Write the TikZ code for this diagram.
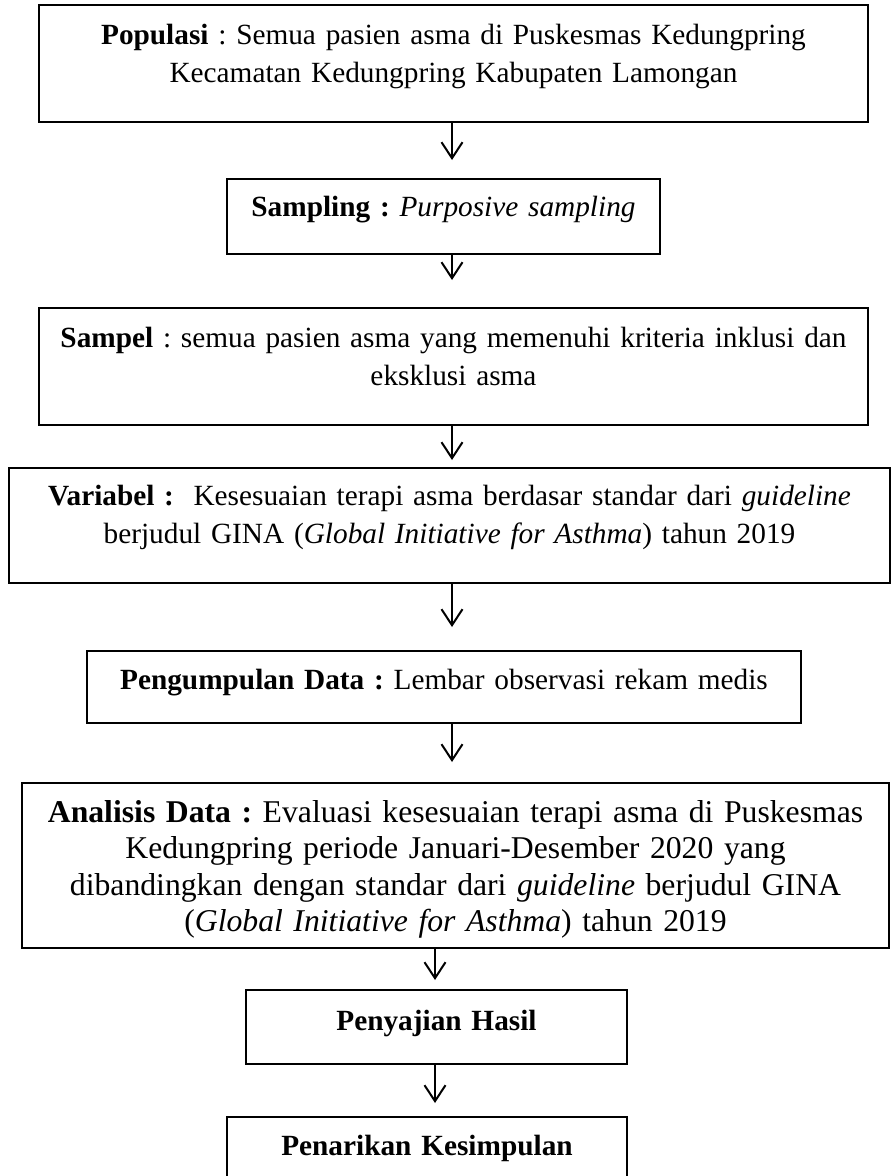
\documentclass[tikz,border=0pt]{standalone}
\usepackage{fontspec}
\setmainfont{Liberation Serif}
\usetikzlibrary{arrows.meta,positioning}
\frenchspacing

\begin{document}
\begin{tikzpicture}[
    x=1pt, y=-1pt,
    box/.style={draw, line width=2.6pt, inner sep=0pt, outer sep=0pt, anchor=north,
      align=center, font=\fontsize{29.3}{38}\selectfont},
    bigbox/.style={box, font=\fontsize{31.7}{36.5}\selectfont},
    arr/.style={-{Straight Barb[length=16pt,width=21pt,line width=2pt]}, line width=2pt},
  ]
    \clip (0,0) rectangle (891,1176);
    \node[box, text width=829pt, text height=39pt, text depth=78pt] (pop) at (453.5,5)
      {\textbf{Populasi} : Semua pasien asma di Puskesmas Kedungpring\\
       Kecamatan Kedungpring Kabupaten Lamongan};
    \node[box, text width=433pt, text height=37pt, text depth=38pt] (samp) at (443.5,179)
      {\textbf{Sampling :} \textit{Purposive sampling}};
    \node[box, text width=829pt, text height=39pt, text depth=78pt] (sampel) at (453.5,308)
      {\textbf{Sampel} : semua pasien asma yang memenuhi kriteria inklusi dan\\
       eksklusi asma};
    \node[box, text width=881pt, text height=37pt, text depth=78pt] (var) at (449.5,468)
      {\textbf{Variabel :}\ \ Kesesuaian terapi asma berdasar standar dari \textit{guideline}\\
       berjudul GINA (\textit{Global Initiative for Asthma}) tahun 2019};
    \node[box, text width=714pt, text height=38pt, text depth=34pt] (kumpul) at (444,651)
      {\textbf{Pengumpulan Data :} Lembar observasi rekam medis};
    \node[bigbox, text width=867pt, text height=39pt, text depth=126pt] (analisis) at (455.5,783)
      {\textbf{Analisis Data :} Evaluasi kesesuaian terapi asma di Puskesmas\\
       Kedungpring periode Januari-Desember 2020 yang\\
       dibandingkan dengan standar dari \textit{guideline} berjudul GINA\\
       (\textit{Global Initiative for Asthma}) tahun 2019};
    \node[box, text width=381pt, text height=40pt, text depth=34pt] (saji) at (436.5,990)
      {\textbf{Penyajian Hasil}};
    \node[box, text width=400pt, text height=38pt, text depth=40pt] (tarik) at (427,1117)
      {\textbf{Penarikan Kesimpulan}};

    % arrow tips
    \coordinate (t1) at (452,160);
    \coordinate (t2) at (452,280);
    \coordinate (t3) at (452,460);
    \coordinate (t4) at (452,627);
    \coordinate (t5) at (452,762);
    \coordinate (t6) at (435,980);
    \coordinate (t7) at (435,1103);

    \draw[arr] (t1 |- pop.south) -- (t1);
    \draw[arr] (t2 |- samp.south) -- (t2);
    \draw[arr] (t3 |- sampel.south) -- (t3);
    \draw[arr] (t4 |- var.south) -- (t4);
    \draw[arr] (t5 |- kumpul.south) -- (t5);
    \draw[arr] (t6 |- analisis.south) -- (t6);
    \draw[arr] (t7 |- saji.south) -- (t7);
  \end{tikzpicture}
\end{document}
